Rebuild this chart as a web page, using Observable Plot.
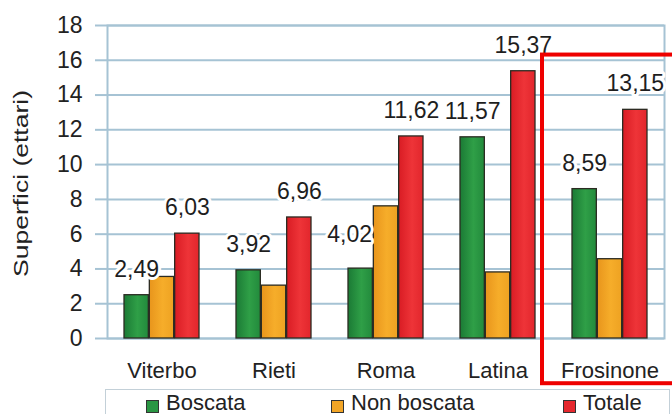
<!DOCTYPE html>
<html>
<head>
<meta charset="utf-8">
<script src="https://cdn.jsdelivr.net/npm/d3@7"></script>
<script src="https://cdn.jsdelivr.net/npm/@observablehq/plot@0.6"></script>
<style>
  html, body { margin: 0; padding: 0; background: white; overflow: hidden; width: 672px; height: 414px; }
  #chart { position: relative; width: 672px; height: 414px; overflow: hidden; font-family: "Liberation Sans", Arial, sans-serif; }
  #legend { position: absolute; left: 105px; top: 389px; width: 565px; height: 40px; border: 1.5px solid #c3d0d8; border-bottom: none; box-sizing: border-box; }
  .item { position: absolute; top: 0; height: 25px; }
  .sw { position: absolute; top: 10px; width: 13px; height: 13px; border: 1px solid #333; box-sizing: border-box; }
  .lab { position: absolute; left: 20px; top: 3px; font-size: 22px; line-height: 20px; color: #222; white-space: nowrap; }
</style>
</head>
<body>
<div id="chart"></div>
<script>
// ---- data ----
const regions = ["Viterbo", "Rieti", "Roma", "Latina", "Frosinone"];
const series = ["Boscata", "Non boscata", "Totale"];
const boscata = [2.49, 3.92, 4.02, 11.57, 8.59];
const nonBoscata = [3.54, 3.04, 7.60, 3.80, 4.56];
const totale = [6.03, 6.96, 11.62, 15.37, 13.15];
const yTicks = [0, 2, 4, 6, 8, 10, 12, 14, 16, 18];
const highlightRegion = "Frosinone";
const yLabel = "Superfici (ettari)";

// ---- layout ----
const W = 672, H = 388;
const mL = 107, mR = 8, mT = 25, mB = 50;
const padIn = 0.326, padOut = 0.133;
const step = (W - mL - mR) / (regions.length - padIn + 2 * padOut);
const band = step * (1 - padIn);
const bw = band / 3;

const gridColor = "#a6c3d4";
const fills = ["url(#gGreen)", "url(#gOrange)", "url(#gRed)"];
const valuesBySeries = [boscata, nonBoscata, totale];
const rows = series.map((s, i) => regions.map((r, j) => ({region: r, series: s, value: valuesBySeries[i][j], other: nonBoscata[j]})));
const fmt = v => d3.format(".2f")(v).replace(".", ",");

const barMarks = rows.map((data, i) => Plot.barY(data, {
  x: "region", y: "value", fill: fills[i], stroke: "#2b2b22", strokeWidth: 1.3,
  insetLeft: i * bw, insetRight: (2 - i) * bw
}));

const labelStyle = {fill: "#1e1e1e", stroke: "white", strokeWidth: 6, fontSize: 23};
// a green label that would sit on a much taller orange neighbour is nudged left/up
const blocked = d => d.other > d.value + 2;

const plot = Plot.plot({
  width: W, height: H,
  marginLeft: mL, marginRight: mR, marginTop: mT, marginBottom: mB,
  style: {fontFamily: "'Liberation Sans', Arial, sans-serif", background: "white", color: "#222", overflow: "visible"},
  x: {domain: regions, paddingInner: padIn, paddingOuter: padOut},
  y: {domain: [0, 18]},
  marks: [
    Plot.gridY(yTicks, {stroke: gridColor, strokeOpacity: 1, strokeWidth: 2}),
    Plot.frame({stroke: gridColor, strokeWidth: 2}),
    Plot.axisY(yTicks, {tickSize: 12, tickPadding: 13, stroke: gridColor, strokeWidth: 2, fill: "#222", fontSize: 23, label: null, tickFormat: d => d}),
    Plot.axisX({tickSize: 0, tickPadding: 24, fill: "#222", fontSize: 22, label: null}),
    Plot.text([yLabel], {frameAnchor: "left", dx: -86, dy: 95, rotate: -90, textAnchor: "start", text: d => d, fontSize: 21, fill: "#222"}),
    ...barMarks,
    Plot.text(rows[0].filter(d => !blocked(d)), {x: "region", y: "value", text: d => fmt(d.value), dx: -bw, dy: -26, ...labelStyle}),
    Plot.text(rows[0].filter(blocked), {x: "region", y: "value", text: d => fmt(d.value), dx: -bw - 11, dy: -34, ...labelStyle}),
    Plot.text(rows[2], {x: "region", y: "value", text: d => fmt(d.value), dx: bw, dy: -26, ...labelStyle}),
    // highlight box around the last region (annotation)
    Plot.rect([highlightRegion], {x: d => d, y1: -2.6, y2: 16.3, fill: "none", stroke: "#ee0000", strokeWidth: 4, insetLeft: -30, insetRight: -40})
  ]
});

const svg = d3.select(plot);
const defs = svg.insert("defs", ":first-child");
function grad(id, stops) {
  const g = defs.append("linearGradient").attr("id", id).attr("x1", "0").attr("x2", "1").attr("y1", "0").attr("y2", "0");
  stops.forEach(([o, c]) => g.append("stop").attr("offset", o).attr("stop-color", c));
}
grad("gGreen", [[0, "#1b7a35"], [0.55, "#2f9f47"], [1, "#228a3c"]]);
grad("gOrange", [[0, "#e8951c"], [0.55, "#f6ad2a"], [1, "#eea222"]]);
grad("gRed", [[0, "#d91c24"], [0.55, "#ee3438"], [1, "#e2262c"]]);

// stretch the rotated y label to match the reference length
svg.selectAll("text").filter(function() { return this.textContent === yLabel; })
  .attr("textLength", 187).attr("lengthAdjust", "spacingAndGlyphs");

const chart = document.getElementById("chart");
chart.appendChild(plot);

// legend (below the SVG)
const legend = document.createElement("div");
legend.id = "legend";
const legendColors = ["#2a9643", "#f2a526", "#e6282e"];
const legendOffsets = [40, 225, 457];
series.forEach((s, i) => {
  const it = document.createElement("div");
  it.className = "item";
  it.style.left = legendOffsets[i] + "px";
  const sw = document.createElement("div");
  sw.className = "sw";
  sw.style.background = legendColors[i];
  const lab = document.createElement("div");
  lab.className = "lab";
  lab.textContent = s;
  it.appendChild(sw); it.appendChild(lab);
  legend.appendChild(it);
});
chart.appendChild(legend);
</script>
</body>
</html>
